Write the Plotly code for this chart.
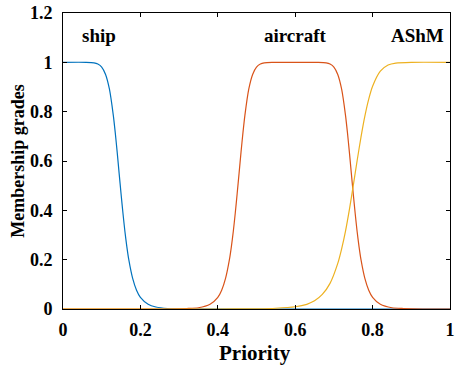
import plotly.graph_objects as go

# Values
ship_x = [0.0, 0.06, 0.08, 0.09, 0.10, 0.11, 0.12, 0.13, 0.135, 0.14, 0.145, 0.15, 0.155,
          0.16, 0.165, 0.17, 0.18, 0.19, 0.20, 0.22, 0.24, 0.27, 0.32, 0.40, 0.60, 0.80, 1.0]
ship_y = [1.0, 1.0, 0.998, 0.993, 0.981, 0.951, 0.891, 0.785, 0.715, 0.636, 0.551, 0.467, 0.387,
          0.314, 0.252, 0.200, 0.124, 0.076, 0.047, 0.019, 0.008, 0.002, 0.0, 0.0, 0.0, 0.0, 0.0]

aircraft_x = [0.0, 0.20, 0.27, 0.32, 0.35, 0.38, 0.40, 0.41, 0.42, 0.43, 0.435, 0.44, 0.445,
              0.45, 0.455, 0.46, 0.465, 0.47, 0.48, 0.49, 0.50, 0.51, 0.52, 0.54, 0.60,
              0.66, 0.68, 0.69, 0.70, 0.71, 0.72, 0.73, 0.735, 0.74, 0.745, 0.75, 0.755,
              0.76, 0.765, 0.77, 0.78, 0.79, 0.80, 0.82, 0.85, 0.88, 0.93, 1.0]
aircraft_y = [0.0, 0.0, 0.0, 0.002, 0.005, 0.019, 0.047, 0.076, 0.124, 0.200, 0.252, 0.314, 0.387,
              0.467, 0.551, 0.636, 0.715, 0.785, 0.891, 0.951, 0.981, 0.993, 0.998, 1.0, 1.0,
              1.0, 0.998, 0.993, 0.981, 0.951, 0.891, 0.785, 0.715, 0.636, 0.551, 0.467, 0.387,
              0.314, 0.252, 0.200, 0.124, 0.076, 0.047, 0.019, 0.005, 0.002, 0.0, 0.0]

ashm_x = [0.0, 0.40, 0.50, 0.55, 0.60, 0.63, 0.65, 0.67, 0.69, 0.71, 0.72, 0.73, 0.74, 0.75,
          0.76, 0.77, 0.78, 0.79, 0.80, 0.82, 0.84, 0.86, 0.90, 1.0]
ashm_y = [0.0, 0.0, 0.001, 0.003, 0.009, 0.019, 0.033, 0.059, 0.104, 0.185, 0.244, 0.316, 0.403, 0.5,
          0.601, 0.697, 0.782, 0.851, 0.903, 0.964, 0.989, 0.997, 1.0, 1.0]

labels = ["ship", "aircraft", "AShM"]
label_x = [0.093, 0.60, 0.917]
label_y = [1.11, 1.11, 1.11]

x_ticks = [0, 0.2, 0.4, 0.6, 0.8, 1]
x_tick_text = ["0", "0.2", "0.4", "0.6", "0.8", "1"]
y_ticks = [0, 0.2, 0.4, 0.6, 0.8, 1, 1.2]
y_tick_text = ["0", "0.2", "0.4", "0.6", "0.8", "1", "1.2"]

FONT = "Liberation Serif"
colors = ["#0072BD", "#D95319", "#EDB120"]

fig = go.Figure()
for xs, ys, c, n in [(ship_x, ship_y, colors[0], labels[0]),
                     (aircraft_x, aircraft_y, colors[1], labels[1]),
                     (ashm_x, ashm_y, colors[2], labels[2])]:
    fig.add_trace(go.Scatter(x=xs, y=ys, mode="lines", name=n,
                             line=dict(color=c, width=1.2, shape="spline", smoothing=0.6)))

for t, x, y in zip(labels, label_x, label_y):
    fig.add_annotation(x=x, y=y, text="<b>%s</b>" % t, showarrow=False,
                       font=dict(family=FONT, size=19, color="black"),
                       xanchor="center", yanchor="middle")

# x-axis title placed just under the tick labels
fig.add_annotation(xref="paper", yref="paper", x=0.497, y=-0.148, text="<b>Priority</b>",
                   showarrow=False, font=dict(family=FONT, size=21, color="black"),
                   xanchor="center", yanchor="middle")

axis_common = dict(showgrid=False, zeroline=False, showline=True, linecolor="black",
                   linewidth=1, mirror="ticks", ticks="inside", ticklen=4,
                   tickcolor="black", tickwidth=1, ticklabeloverflow="allow",
                   tickfont=dict(family=FONT, size=18, color="black", weight="bold"))

fig.update_xaxes(range=[0, 1], tickvals=x_ticks, ticktext=x_tick_text,
                 ticklabelstandoff=4, **axis_common)
fig.update_yaxes(range=[0, 1.2], tickvals=y_ticks, ticktext=y_tick_text,
                 title=dict(text="<b>Membership grades</b>", font=dict(family=FONT, size=18, color="black"),
                            standoff=0),
                 ticklabelstandoff=6, **axis_common)

fig.update_layout(width=457, height=365, margin=dict(l=63, r=2, t=13, b=56),
                  plot_bgcolor="white", paper_bgcolor="white", showlegend=False)

fig.write_html("out.html", config={"displayModeBar": False},
               post_script="document.body.style.margin='0';document.body.style.overflow='hidden';")
